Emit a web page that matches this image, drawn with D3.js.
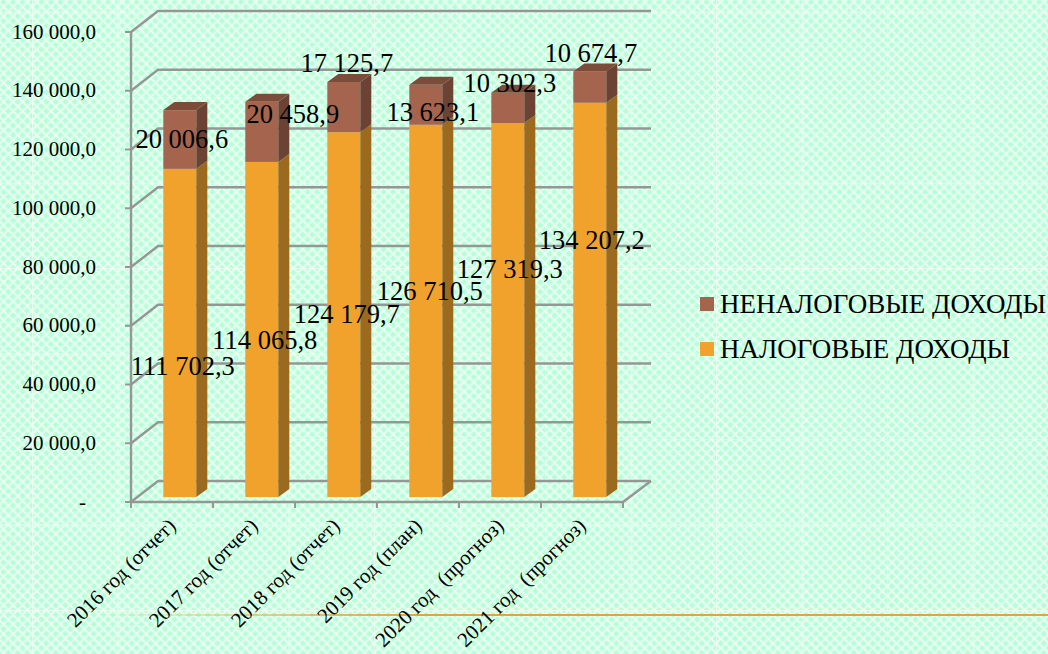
<!DOCTYPE html>
<html><head><meta charset="utf-8">
<script src="https://cdnjs.cloudflare.com/ajax/libs/d3/7.8.5/d3.min.js"></script>
<style>html,body{margin:0;padding:0;overflow:hidden;background:#b6ffd9}svg{display:block}text{font-family:"Liberation Serif","Times New Roman",serif;fill:#000}</style>
</head><body><svg id="c" width="1048" height="654"></svg>
<script>
const categories=["2016 год (отчет)","2017 год (отчет)","2018 год (отчет)","2019 год (план)","2020 год  (прогноз)","2021 год  (прогноз)"];
const taxIncome=[111702.3,114065.8,124179.7,126710.5,127319.3,134207.2];
const nonTaxIncome=[20006.6,20458.9,17125.7,13623.1,10302.3,10674.7];
const taxLabels=["111 702,3","114 065,8","124 179,7","126 710,5","127 319,3","134 207,2"];
const nonTaxLabels=["20 006,6","20 458,9","17 125,7","13 623,1","10 302,3","10 674,7"];
const yTicks=[0,20000,40000,60000,80000,100000,120000,140000,160000];
const yTickLabels=["-","20 000,0","40 000,0","60 000,0","80 000,0","100 000,0","120 000,0","140 000,0","160 000,0"];
const legendNames=["НЕНАЛОГОВЫЕ ДОХОДЫ","НАЛОГОВЫЕ ДОХОДЫ"];
// hand-moved data labels of the original chart, as pixel nudges from each segment's centre
const taxNudge=[[3,34],[3,11],[3,0],[4,-19],[2,-40],[2,-59]];
const nonTaxNudge=[[2,0],[31,-17],[3,-44],[7,8],[2,-24],[1,-34]];

const svg=d3.select("#c"),defs=svg.append("defs");
const P=85.5,N=9,st=P/N;
const pat=defs.append("pattern").attr("id","bg").attr("patternUnits","userSpaceOnUse")
 .attr("width",P).attr("height",P).attr("x",32).attr("y",11.5);
pat.append("rect").attr("width",P).attr("height",P).attr("fill","#b4ffd6");
const cells=d3.range(N+1);
cells.forEach(i=>cells.forEach(j=>{
  pat.append("path").attr("d",`M${i*st-st/2} ${j*st}L${i*st} ${j*st-st/2}L${i*st+st/2} ${j*st}L${i*st} ${j*st+st/2}Z`)
   .attr("fill","none").attr("stroke","#e9fff3").attr("stroke-width",2.1);
}));
pat.append("path").attr("d",`M0.5 0V${P}M0 0.5H${P}`).attr("stroke","#e8fff2").attr("stroke-width",1).attr("fill","none");
svg.append("rect").attr("width",1048).attr("height",654).attr("fill","url(#bg)");

const grad=defs.append("linearGradient").attr("id","rule").attr("gradientUnits","userSpaceOnUse")
 .attr("x1",90).attr("x2",420).attr("y1",0).attr("y2",0);
grad.append("stop").attr("offset",0).attr("stop-color","#e8a23a").attr("stop-opacity",0);
grad.append("stop").attr("offset",1).attr("stop-color","#e8a23a").attr("stop-opacity",1);
svg.append("rect").attr("x",90).attr("y",614).attr("width",958).attr("height",2).attr("fill","url(#rule)");

const y=d3.scaleLinear().domain([0,160000]).range([502,32]);
const x=d3.scaleBand().domain(categories).range([131,623]);
const wallDx=27,wallDy=-21,barW=33,barDx=11,barDy=-8,barX=32.3,barShift=-5;
const gridC="#969696",g=svg.append("g");
const xR=x.range();
yTicks.forEach(t=>{
  g.append("path").attr("d",`M${xR[0]} ${y(t)}L${xR[0]+wallDx} ${y(t)+wallDy}L${xR[1]+wallDx+1} ${y(t)+wallDy}`)
   .attr("fill","none").attr("stroke",gridC).attr("stroke-width",2.4);
  g.append("line").attr("x1",xR[0]-6).attr("x2",xR[0]).attr("y1",y(t)).attr("y2",y(t)).attr("stroke",gridC).attr("stroke-width",2);
});
g.append("line").attr("x1",xR[1]).attr("y1",y(0)).attr("x2",xR[1]+wallDx+1).attr("y2",y(0)+wallDy).attr("stroke",gridC).attr("stroke-width",2.4);
g.append("line").attr("x1",xR[0]).attr("x2",xR[0]).attr("y1",y(160000)).attr("y2",y(0)).attr("stroke",gridC).attr("stroke-width",2.4);
g.append("line").attr("x1",xR[0]).attr("x2",xR[1]).attr("y1",y(0)).attr("y2",y(0)).attr("stroke",gridC).attr("stroke-width",2.4);
d3.range(7).forEach(i=>{const px=xR[0]+i*x.step();
  g.append("line").attr("x1",px).attr("x2",px).attr("y1",y(0)).attr("y2",y(0)+6).attr("stroke",gridC).attr("stroke-width",2);});

const rows=categories.map((c,i)=>({c,tax:taxIncome[i],non:nonTaxIncome[i]}));
const series=d3.stack().keys(["tax","non"])(rows);
const sty={tax:{f:"#f1a22d",s:"#9c6a1e",t:"#c48a2a"},non:{f:"#a5644e",s:"#6c4234",t:"#7c4c3b"}};
const bars=svg.append("g");
rows.forEach((r,i)=>{
  const x0=x(r.c)+barX,x1=x0+barW;
  series.forEach(s=>{
    const [a,b]=s[i],c=sty[s.key],ya=y(a)+barShift,yb=y(b)+barShift;
    bars.append("rect").attr("x",x0).attr("y",yb).attr("width",barW).attr("height",ya-yb).attr("fill",c.f);
    bars.append("path").attr("d",`M${x1} ${ya}L${x1+barDx} ${ya+barDy}L${x1+barDx} ${yb+barDy}L${x1} ${yb}Z`).attr("fill",c.s);
    if(s.key==="non")bars.append("path").attr("d",`M${x0} ${yb}L${x0+barDx} ${yb+barDy}L${x1+barDx} ${yb+barDy}L${x1} ${yb}Z`).attr("fill",c.t);
  });
});

const yl=svg.append("g").attr("font-size",21).attr("text-anchor","end");
yTicks.forEach((t,i)=>yl.append("text").attr("x",i?96:86).attr("y",y(t)+6.5).text(yTickLabels[i]));

const dl=svg.append("g").attr("font-size",26.5).attr("text-anchor","middle");
rows.forEach((r,i)=>{
  const cx=x(r.c)+barX+barW/2;
  const s0=series[0][i],s1=series[1][i];
  dl.append("text").attr("x",cx+taxNudge[i][0]).attr("y",y((s0[0]+s0[1])/2)+barShift+taxNudge[i][1]+8.5).text(taxLabels[i]);
  dl.append("text").attr("x",cx+nonTaxNudge[i][0]).attr("y",y((s1[0]+s1[1])/2)+barShift+nonTaxNudge[i][1]+8.5).text(nonTaxLabels[i]);
});

const cl=svg.append("g").attr("font-size",21).attr("text-anchor","end");
categories.forEach(c=>{
  const px=x(c)+x.step()/2;
  cl.append("text").attr("transform",`translate(${px+5},${y(0)+25}) rotate(-45)`).attr("xml:space","preserve").style("white-space","pre").text(c);
});

const lg=svg.append("g");
[["#a5644e",297,legendNames[0]],["#f1a22d",342,legendNames[1]]].forEach(([col,ty,name])=>{
  lg.append("rect").attr("x",700).attr("y",ty).attr("width",14).attr("height",14).attr("fill",col);
  lg.append("text").attr("x",720).attr("y",ty+16).attr("font-size",27).text(name);
});
</script></body></html>
